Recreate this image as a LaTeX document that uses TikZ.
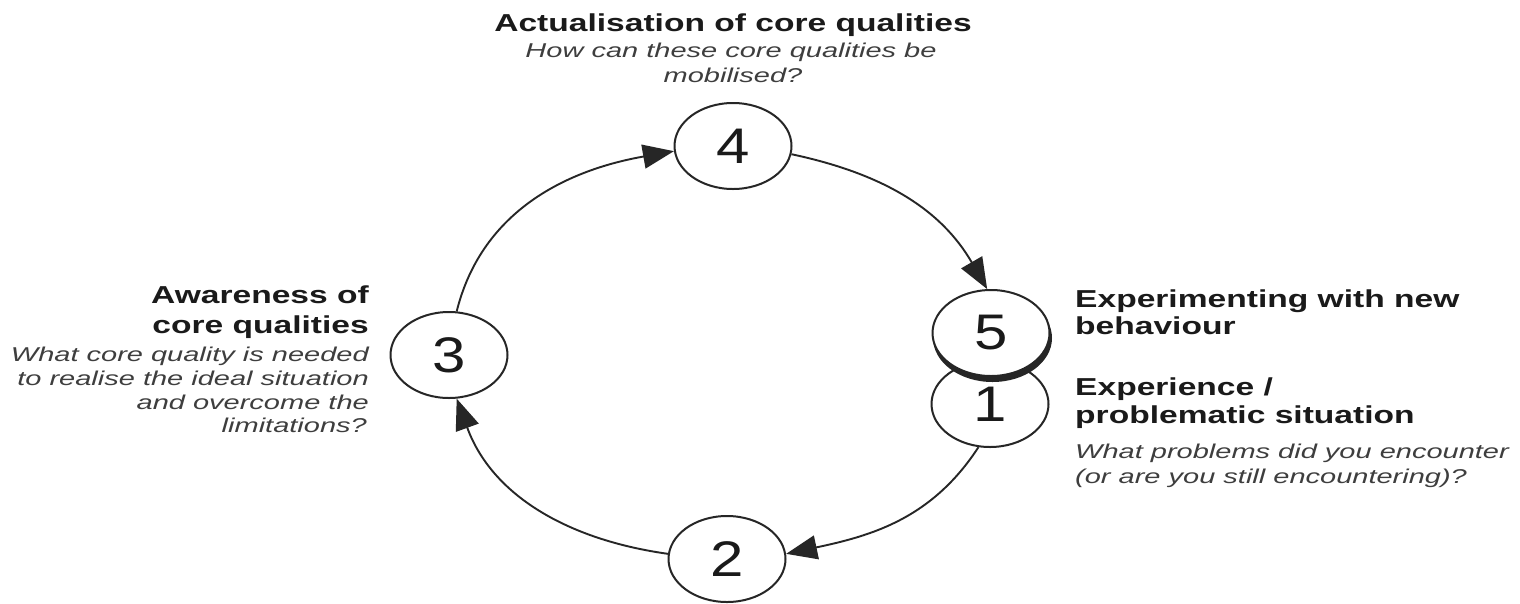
\documentclass[tikz,border=0pt]{standalone}
\usepackage{fontspec}
\usetikzlibrary{shapes.geometric,arrows.meta}
\newfontfamily\labfont[FakeStretch=1.45]{Liberation Sans}
\newfontfamily\hdfont[FakeStretch=1.37]{Liberation Sans}
\newfontfamily\digfont[FakeStretch=1.2]{Liberation Sans}
\definecolor{linec}{HTML}{262626}
\definecolor{headc}{HTML}{1A1A1A}
\definecolor{quesc}{HTML}{3E3E3E}
\tikzset{
  hd/.style={font=\hdfont\bfseries\fontsize{24.5}{28}\selectfont, text=headc, inner sep=0pt},
  qu/.style={font=\labfont\itshape\fontsize{20}{24}\selectfont, text=quesc, inner sep=0pt},
  num/.style={ellipse, draw=linec, line width=2pt, fill=white, minimum width=117pt,
    minimum height=86pt, inner sep=0pt, text=headc, font=\digfont\fontsize{50}{50}\selectfont},
  conn/.style={draw=linec, line width=1.9pt, -{Triangle[length=31pt,width=24pt]}},
}
\begin{document}
\begin{tikzpicture}[x=1pt,y=1pt]
\useasboundingbox (0,0) rectangle (1520,-603);
\fill[white] (0,0) rectangle (1520,-603);

% circles
\node[num] (n4) at (733,-146) {4};
\node[num] (n3) at (449,-355) {3};
\node[num] (n2) at (727,-559) {2};
\node[num] (n1) at (990,-404) {1};
\fill[linec] (992.5,-338) ellipse [x radius=59.5, y radius=44];
\node[num] (n5) at (991,-333) {5};

% connectors
\draw[conn] (n3.80) to[out=76,in=190] (n4.185);
\draw[conn] (n4.-8) to[out=-12,in=120] (n5.95);
\draw[conn] (n1.255) to[out=237,in=12] (n2.5);
\draw[conn] (n2.175) to[out=172,in=-70] (n3.-80);

% top text
\node[hd, anchor=base] (t1) at (733,-31) {Actualisation of core qualities};
\node[qu, anchor=base] (t2) at (731,-57) {How can these core qualities be};
\node[qu, anchor=base] (t3) at (733,-82) {mobilised?};

% left text
\node[hd, anchor=base east] (l1) at (369,-303) {Awareness of};
\node[hd, anchor=base east] (l2) at (369,-333) {core qualities};
\node[qu, anchor=base east] (l3) at (369,-361) {What core quality is needed};
\node[qu, anchor=base east] (l4) at (369,-385) {to realise the ideal situation};
\node[qu, anchor=base east] (l5) at (369,-409) {and overcome the};
\node[qu, anchor=base east] (l6) at (367,-432) {limitations?};

% right text
\node[hd, anchor=base west] (r1) at (1075,-307) {Experimenting with new};
\node[hd, anchor=base west] (r2) at (1075,-334) {behaviour};
\node[hd, anchor=base west] (r3) at (1075,-395) {Experience /};
\node[hd, anchor=base west] (r4) at (1075,-423) {problematic situation};
\node[qu, anchor=base west] (r5) at (1075,-458) {What problems did you encounter};
\node[qu, anchor=base west] (r6) at (1075,-483) {(or are you still encountering)?};
\end{tikzpicture}
\end{document}
